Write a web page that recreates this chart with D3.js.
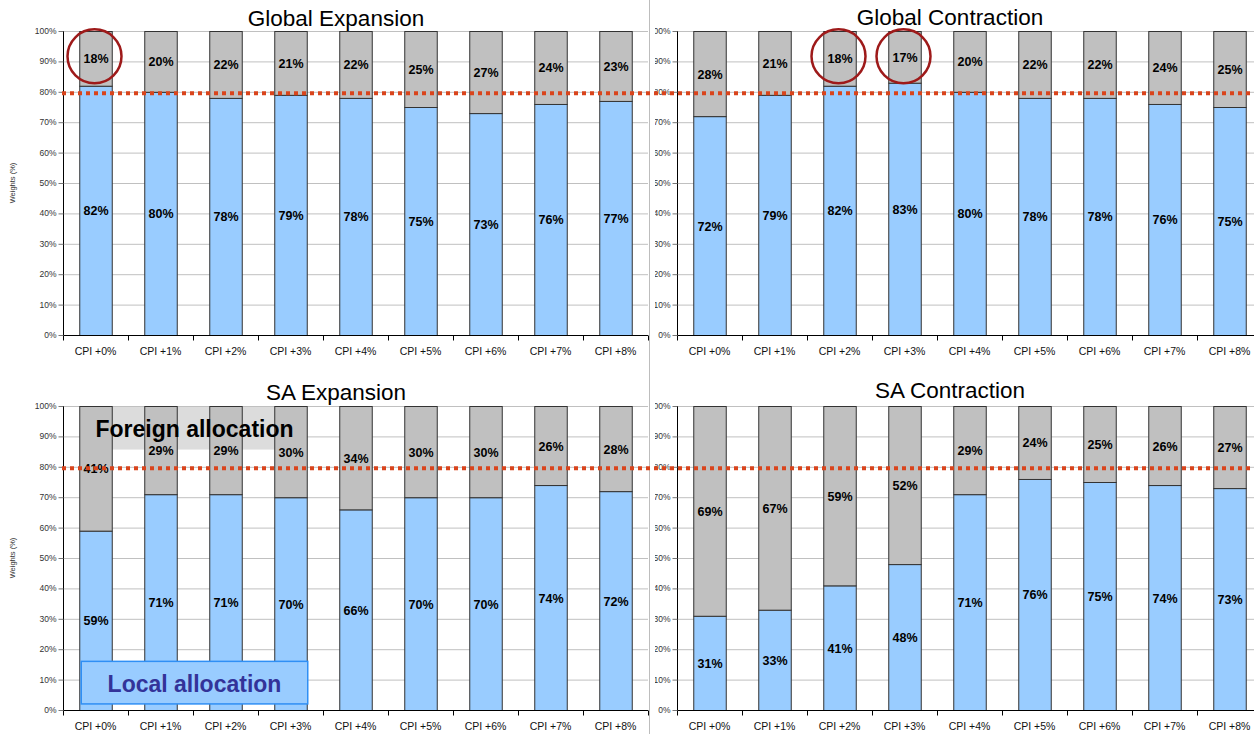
<!DOCTYPE html>
<html>
<head>
<meta charset="utf-8">
<script src="https://cdn.jsdelivr.net/npm/d3@7"></script>
<style>
  html, body { margin: 0; padding: 0; background: #fff; }
  svg { display: block; font-family: Arial, "Liberation Sans", sans-serif; }
</style>
</head>
<body>
<svg id="chart" width="1254" height="734"></svg>
<script>
// Inflation scenarios (categories shared by all four panels)
const categories = ["CPI +0%", "CPI +1%", "CPI +2%", "CPI +3%", "CPI +4%", "CPI +5%", "CPI +6%", "CPI +7%", "CPI +8%"];

// Local / foreign portfolio weights (%)
const globalExpansionLocal   = [82, 80, 78, 79, 78, 75, 73, 76, 77];
const globalExpansionForeign = [18, 20, 22, 21, 22, 25, 27, 24, 23];
const globalContractionLocal   = [72, 79, 82, 83, 80, 78, 78, 76, 75];
const globalContractionForeign = [28, 21, 18, 17, 20, 22, 22, 24, 25];
const saExpansionLocal   = [59, 71, 71, 70, 66, 70, 70, 74, 72];
const saExpansionForeign = [41, 29, 29, 30, 34, 30, 30, 26, 28];
const saContractionLocal   = [31, 33, 41, 48, 71, 76, 75, 74, 73];
const saContractionForeign = [69, 67, 59, 52, 29, 24, 25, 26, 27];

// 80% local benchmark and y-axis ticks
const benchmark = 80;
const yTicks = [0, 10, 20, 30, 40, 50, 60, 70, 80, 90, 100];

// Scenarios highlighted with a ring
const globalExpansionHighlight = ["CPI +0%"];
const globalContractionHighlight = ["CPI +2%", "CPI +3%"];

const svg = d3.select("#chart");
const W = 585, H = 304;

const BLUE = "#99ccff", GREY = "#c0c0c0", EDGE = "#333333";

const panels = [
  { title: "Global Expansion", local: globalExpansionLocal, foreign: globalExpansionForeign,
    x0: 63, y0: 31, titleY: 26, highlight: globalExpansionHighlight, yLabel: true },
  { title: "Global Contraction", local: globalContractionLocal, foreign: globalContractionForeign,
    x0: 677, y0: 31, titleY: 25, highlight: globalContractionHighlight, clipLeft: 655 },
  { title: "SA Expansion", local: saExpansionLocal, foreign: saExpansionForeign,
    x0: 63, y0: 406, titleY: 400, highlight: [], yLabel: true, boxes: true },
  { title: "SA Contraction", local: saContractionLocal, foreign: saContractionForeign,
    x0: 677, y0: 406, titleY: 398, highlight: [], clipLeft: 655 }
];

// divider between left and right panels
svg.append("line")
  .attr("x1", 649.5).attr("x2", 649.5).attr("y1", 0).attr("y2", 734)
  .attr("stroke", "#bdbdbd").attr("stroke-width", 1);

panels.forEach((p, pi) => {
  const x = d3.scaleBand().domain(categories).range([0, W]).paddingInner(0.5).paddingOuter(0.25);
  const y = d3.scaleLinear().domain([0, 100]).range([H, 0]);

  if (p.clipLeft !== undefined) {
    svg.append("clipPath").attr("id", "clip" + pi)
      .append("rect").attr("x", p.clipLeft).attr("y", 0).attr("width", 1254 - p.clipLeft).attr("height", 734);
  }
  const outer = svg.append("g");
  if (p.clipLeft !== undefined) outer.attr("clip-path", `url(#clip${pi})`);

  // title
  outer.append("text")
    .attr("x", p.x0 + 273).attr("y", p.titleY)
    .attr("text-anchor", "middle")
    .attr("font-size", 22.5).attr("fill", "#000")
    .text(p.title);

  // y label
  if (p.yLabel) {
    outer.append("text")
      .attr("transform", `translate(15,${p.y0 + 152}) rotate(-90)`)
      .attr("text-anchor", "middle")
      .attr("font-size", 7.5).attr("fill", "#333")
      .text("Weights (%)");
  }

  const g = outer.append("g").attr("transform", `translate(${p.x0},${p.y0})`);

  // gridlines
  g.append("g").selectAll("line").data(yTicks.filter(t => t > 0)).join("line")
    .attr("x1", 0).attr("x2", W)
    .attr("y1", d => y(d) + 0.5).attr("y2", d => y(d) + 0.5)
    .attr("stroke", "#c0c0c0").attr("stroke-width", 1);

  // background band for the "Foreign allocation" caption
  if (p.boxes) {
    g.append("rect")
      .attr("x", x(categories[0]) + 20).attr("y", y(100) + 1)
      .attr("width", x(categories[3]) + x.bandwidth() - x(categories[0]) - 20)
      .attr("height", y(86) - y(100))
      .attr("fill", "#dcdcdc");
  }

  // stacked bars
  const bars = g.append("g");
  bars.selectAll("rect.local").data(categories).join("rect")
    .attr("class", "local")
    .attr("x", d => x(d) + 0.5)
    .attr("y", (d, i) => y(p.local[i]) + 0.5)
    .attr("width", x.bandwidth())
    .attr("height", (d, i) => y(0) - y(p.local[i]))
    .attr("fill", BLUE).attr("stroke", EDGE).attr("stroke-width", 1);
  bars.selectAll("rect.foreign").data(categories).join("rect")
    .attr("class", "foreign")
    .attr("x", d => x(d) + 0.5)
    .attr("y", (d, i) => y(p.local[i] + p.foreign[i]) + 0.5)
    .attr("width", x.bandwidth())
    .attr("height", (d, i) => y(0) - y(p.foreign[i]))
    .attr("fill", GREY).attr("stroke", EDGE).attr("stroke-width", 1);

  // x axis
  const xa = g.append("g").attr("transform", `translate(0,${H + 0.5})`);
  xa.append("line").attr("x1", 0).attr("x2", W).attr("stroke", "#000").attr("stroke-width", 1);
  xa.selectAll("line.tick").data(d3.range(categories.length + 1)).join("line")
    .attr("class", "tick")
    .attr("x1", i => i * x.step() + 0.5).attr("x2", i => i * x.step() + 0.5)
    .attr("y1", 0).attr("y2", 5)
    .attr("stroke", "#000");
  xa.selectAll("text").data(categories).join("text")
    .attr("x", d => x(d) + x.bandwidth() / 2)
    .attr("y", 19)
    .attr("text-anchor", "middle")
    .attr("font-size", 10.5).attr("fill", "#111")
    .text(d => d);

  // y axis
  const ya = g.append("g").attr("transform", "translate(0.5,0)");
  ya.append("line").attr("y1", 0).attr("y2", H + 0.5).attr("stroke", "#000");
  ya.selectAll("line.tick").data(yTicks).join("line")
    .attr("class", "tick")
    .attr("x1", -5).attr("x2", 0)
    .attr("y1", d => y(d) + 0.5).attr("y2", d => y(d) + 0.5)
    .attr("stroke", "#777");
  ya.selectAll("text").data(yTicks).join("text")
    .attr("x", -7).attr("y", d => y(d) + 3)
    .attr("text-anchor", "end")
    .attr("font-size", 8.5).attr("fill", "#333")
    .text(d => d + "%");

  // value labels
  const lab = g.append("g").attr("font-size", 12.5).attr("font-weight", "bold")
    .attr("text-anchor", "middle").attr("fill", "#000");
  lab.selectAll("text.lv").data(categories).join("text")
    .attr("class", "lv")
    .attr("x", d => x(d) + x.bandwidth() / 2 + 0.5)
    .attr("y", (d, i) => y(p.local[i] / 2) + 5)
    .text((d, i) => p.local[i] + "%");
  lab.selectAll("text.fv").data(categories).join("text")
    .attr("class", "fv")
    .attr("x", d => x(d) + x.bandwidth() / 2 + 0.5)
    .attr("y", (d, i) => y(p.local[i] + p.foreign[i] / 2) + 5)
    .text((d, i) => p.foreign[i] + "%");

  // highlight rings
  g.selectAll("circle.ring").data(p.highlight).join("circle")
    .attr("class", "ring")
    .attr("cx", d => x(d) + x.bandwidth() / 2 - 1)
    .attr("cy", y(91) - 2)
    .attr("r", 27)
    .attr("fill", "none").attr("stroke", "#9e1a1a").attr("stroke-width", 2.5);

  // caption boxes
  if (p.boxes) {
    const bx = x(categories[0]) + 2;
    const bw = x(categories[3]) + x.bandwidth() - bx + 1;
    g.append("text")
      .attr("x", bx + bw / 2).attr("y", y(90) + 1)
      .attr("text-anchor", "middle")
      .attr("font-size", 23).attr("font-weight", "bold").attr("fill", "#000")
      .text("Foreign allocation");
    g.append("rect")
      .attr("x", bx).attr("y", y(16))
      .attr("width", bw).attr("height", y(2) - y(16))
      .attr("fill", BLUE).attr("stroke", "#2f8ff5").attr("stroke-width", 1.5);
    g.append("text")
      .attr("x", bx + bw / 2).attr("y", y(9) + 9)
      .attr("text-anchor", "middle")
      .attr("font-size", 23).attr("font-weight", "bold").attr("fill", "#333399")
      .text("Local allocation");
  }
});

// 80% benchmark lines across each row
[31, 406].forEach(top => {
  const y = d3.scaleLinear().domain([0, 100]).range([top + H, top]);
  svg.append("line")
    .attr("x1", 62).attr("x2", 1254)
    .attr("y1", y(benchmark) + 1.5).attr("y2", y(benchmark) + 1.5)
    .attr("stroke", "#d9441c").attr("stroke-width", 4)
    .attr("stroke-dasharray", "4,4");
});
</script>
</body>
</html>
